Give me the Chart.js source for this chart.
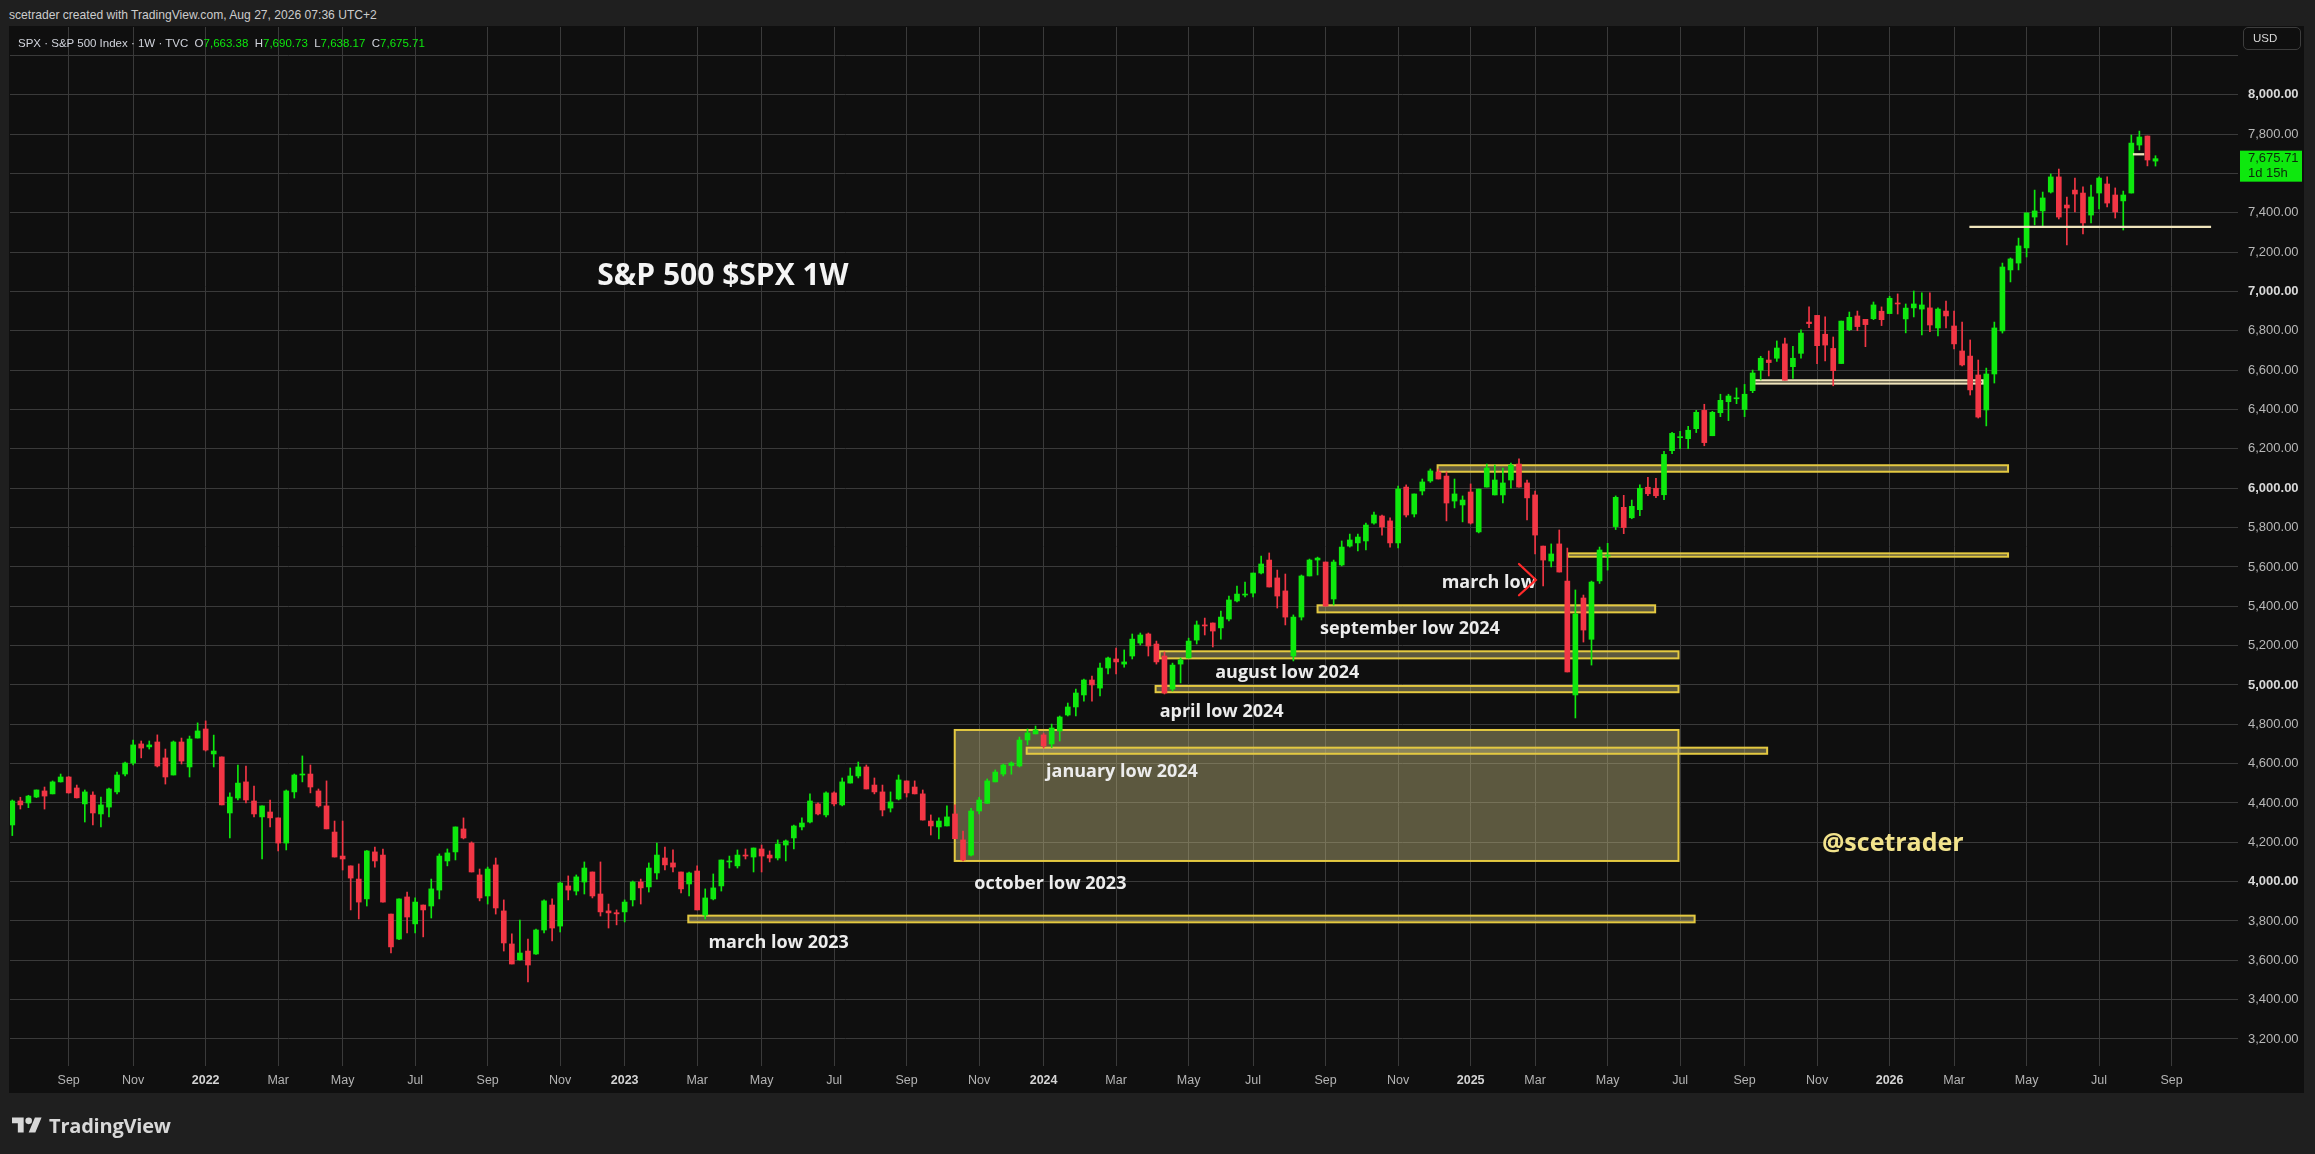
<!DOCTYPE html>
<html>
<head>
<meta charset="utf-8">
<title>S&amp;P 500 $SPX 1W</title>
<script src="https://cdn.jsdelivr.net/npm/chart.js@4.4.1/dist/chart.umd.min.js"></script>
<style>
  html, body { margin:0; padding:0; width:2315px; height:1154px; overflow:hidden; background:#1f1f1f; }
  body { position:relative; font-family:"Liberation Sans", Arial, sans-serif; }
  #hdr { position:absolute; left:9px; top:6px; font-size:12.1px; line-height:18px; color:#cccccc; }
  #panel { position:absolute; left:9px; top:26px; width:2295px; height:1067px; background:#0f0f0f; }
  #chart { position:absolute; left:0; top:0; }
  #legend { position:absolute; left:18px; top:35px; font-size:11.5px; line-height:16px; color:#d1d4dc; white-space:pre; }
  #legend .v { color:#0ee80e; }
  #usd { position:absolute; left:2243px; top:27px; width:58px; height:23px; box-sizing:border-box; border:1px solid #3d3d3d; border-radius:5px; color:#d8d8d8; font-size:11.5px; line-height:21px; padding-left:9px; }
  #brand { position:absolute; left:12px; top:1114px; height:22px; display:flex; align-items:center; gap:7px; color:#d8d8d8; font-family:"Open Sans", sans-serif; font-weight:700; font-size:20px; letter-spacing:-0.2px; }
</style>
</head>
<body>
<div id="hdr">scetrader created with TradingView.com, Aug 27, 2026 07:36 UTC+2</div>
<div id="panel"></div>
<canvas id="chart" width="2315" height="1154"></canvas>
<div id="legend"></div>
<div id="usd">USD</div>
<div id="brand"><svg width="30" height="22" viewBox="0 0 36 26"><path fill="#d8d8d8" d="M14 22H7V11H0V4h14v18zM28 22h-8l7.5-18h8L28 22z"/><circle cx="20" cy="8" r="4" fill="#d8d8d8"/></svg><span>TradingView</span></div>
<script>
// ---------- DATA (weekly candles, first bar = week of 2021-07-19) ----------
const firstWeek = '2021-07-19';

const opens = [
  4288,4410,4400,4430,4461,4446,4507,4532,4476,4395,
  4440,4344,4379,4456,4547,4603,4700,4685,4710,4629,
  4542,4710,4583,4730,4776,4649,4634,4349,4425,4507,
  4410,4329,4354,4324,4196,4456,4542,4547,4461,4385,
  4252,4130,4080,4013,3912,4151,4135,3835,3708,3922,
  3785,3881,3876,3957,4105,4151,4268,4196,4034,3927,
  4085,3851,3683,3602,3647,3632,3754,3881,3774,3978,
  3952,3998,4049,3937,3851,3842,3846,3907,3998,3973,
  4044,4120,4095,4049,3988,4054,3830,3912,3978,4100,
  4080,4135,4125,4166,4135,4120,4186,4222,4278,4303,
  4395,4339,4451,4390,4501,4537,4583,4491,4456,4374,
  4420,4512,4481,4446,4308,4278,4283,4344,4212,4135,
  4359,4398,4507,4547,4590,4588,4720,4751,4746,4700,
  4766,4847,4888,4949,5025,4984,5086,5132,5106,5147,
  5213,5259,5208,5147,4979,5106,5137,5228,5305,5315,
  5290,5335,5427,5457,5467,5569,5635,5544,5478,5147,
  5345,5554,5635,5625,5437,5610,5706,5722,5732,5823,
  5859,5834,5722,6006,5869,5986,6037,6083,6062,5935,
  5915,5981,5778,6006,5966,5966,6042,6123,6027,5966,
  5706,5630,5717,5528,4949,5442,5232,5529,5655,5805,
  5903,5850,5891,6005,6000,5967,6191,6257,6252,6303,
  6396,6267,6384,6440,6455,6400,6496,6600,6652,6661,
  6734,6618,6686,6845,6879,6783,6711,6634,6806,6876,
  6859,6862,6900,6888,6940,6861,6917,6911,6917,6815,
  6901,6825,6698,6672,6576,6398,6581,6800,7110,7145,
  7222,7379,7410,7506,7583,7440,7516,7501,7389,7501,
  7547,7491,7461,7501,7745,7791,7663.38
];
const highs = [
  4415,4429,4439,4466,4481,4512,4547,4534,4491,4466,
  4456,4430,4476,4557,4608,4720,4715,4715,4746,4674,
  4715,4730,4740,4807,4817,4745,4634,4451,4593,4588,
  4486,4385,4415,4324,4466,4547,4639,4593,4471,4512,
  4308,4308,4080,4090,4158,4176,4166,3835,3913,3947,
  3917,3881,4013,4141,4166,4278,4324,4202,4064,4074,
  4120,3907,3734,3805,3708,3759,3907,3912,3998,4029,
  4034,4100,4049,4100,3886,3856,3907,4003,4013,4095,
  4196,4176,4161,4049,4049,4080,3963,4039,4110,4130,
  4161,4166,4171,4186,4156,4212,4212,4288,4324,4446,
  4400,4456,4456,4527,4578,4608,4593,4527,4491,4456,
  4542,4512,4512,4466,4339,4324,4385,4390,4257,4373,
  4429,4522,4568,4598,4609,4735,4776,4791,4755,4801,
  4842,4908,4979,5030,5045,5111,5142,5188,5178,5259,
  5264,5264,5223,5168,5111,5137,5238,5325,5340,5315,
  5376,5452,5503,5523,5569,5655,5671,5584,5564,5356,
  5559,5640,5650,5625,5635,5732,5767,5767,5823,5879,
  5864,5849,6011,6017,5971,6047,6098,6098,6083,6047,
  5961,6022,5996,6123,6118,6103,6128,6149,6042,5986,
  5706,5717,5788,5696,5483,5457,5528,5701,5720,5961,
  5964,5940,6017,6056,6050,6188,6284,6289,6315,6396,
  6427,6391,6478,6478,6510,6528,6601,6671,6698,6749,
  6764,6722,6805,6922,6879,6871,6769,6850,6896,6901,
  6859,6947,6922,6976,6988,6937,7003,6993,6993,6917,
  6952,6901,6845,6754,6652,6611,6845,7145,7171,7272,
  7400,7516,7506,7598,7623,7481,7577,7532,7542,7583,
  7583,7527,7511,7796,7816,7791,7690.73
];
const lows = [
  4234,4369,4376,4427,4369,4446,4506,4450,4425,4303,
  4288,4278,4329,4446,4537,4593,4629,4674,4583,4496,
  4542,4598,4532,4730,4664,4583,4390,4222,4415,4400,
  4329,4115,4278,4156,4161,4425,4507,4451,4379,4268,
  4125,4059,3856,3810,3876,4074,3896,3637,3705,3739,
  3739,3719,3815,3912,4080,4110,4217,4049,3902,3886,
  3835,3647,3581,3600,3490,3630,3739,3698,3744,3907,
  3932,3937,3917,3825,3764,3780,3795,3876,3886,3947,
  4013,4059,4049,3942,3927,3856,3810,3907,3952,4069,
  4069,4115,4049,4049,4100,4110,4105,4166,4263,4298,
  4339,4329,4385,4385,4501,4527,4471,4446,4334,4354,
  4415,4430,4446,4313,4237,4217,4283,4218,4105,4130,
  4344,4398,4507,4537,4546,4583,4695,4751,4679,4682,
  4715,4842,4842,4918,4918,4944,5056,5056,5090,5132,
  5203,5147,5106,4954,4969,5010,5137,5208,5254,5193,
  5233,5325,5422,5447,5447,5564,5498,5391,5305,5122,
  5330,5554,5559,5401,5406,5605,5701,5681,5686,5818,
  5762,5701,5696,5854,5854,5966,6030,6047,5834,5900,
  5829,5818,5773,6006,5966,5925,6001,6006,5839,5666,
  5503,5600,5574,5066,4832,5218,5101,5516,5584,5790,
  5769,5845,5860,5962,5952,5942,6176,6201,6201,6283,
  6216,6267,6364,6344,6430,6364,6486,6551,6571,6645,
  6549,6559,6661,6817,6633,6648,6521,6634,6801,6801,
  6720,6857,6827,6888,6886,6790,6871,6779,6796,6774,
  6815,6708,6622,6474,6357,6317,6535,6789,7049,7110,
  7176,7339,7333,7501,7369,7237,7405,7293,7349,7420,
  7430,7374,7313,7501,7720,7639,7638.17
];
const closes = [
  4410,4390,4435,4466,4435,4507,4532,4451,4426,4456,
  4349,4390,4471,4542,4603,4695,4679,4695,4588,4532,
  4710,4613,4725,4766,4669,4664,4390,4430,4501,4415,
  4344,4385,4324,4196,4461,4542,4547,4481,4385,4268,
  4125,4115,4018,3896,4156,4105,3896,3668,3912,3820,
  3896,3856,3963,4130,4146,4278,4222,4049,3917,4064,
  3866,3688,3581,3637,3576,3754,3902,3764,3993,3957,
  4024,4069,3927,3846,3841,3836,3896,3998,3968,4069,
  4135,4085,4074,3963,4044,3856,3917,3968,4110,4105,
  4135,4130,4171,4130,4120,4191,4207,4283,4298,4410,
  4344,4451,4395,4507,4537,4583,4471,4456,4364,4405,
  4517,4451,4446,4313,4283,4308,4329,4218,4110,4359,
  4415,4512,4557,4593,4603,4720,4756,4771,4690,4781,
  4837,4888,4959,5025,5000,5086,5137,5117,5117,5233,
  5254,5198,5117,4959,5101,5127,5223,5305,5300,5274,
  5345,5432,5462,5462,5569,5615,5498,5452,5345,5345,
  5554,5635,5645,5401,5625,5701,5737,5752,5813,5864,
  5803,5722,5996,5864,5971,6032,6088,6047,5925,5971,
  5940,5823,5996,6103,6042,6027,6118,6006,5951,5762,
  5635,5666,5574,5066,5361,5279,5523,5686,5660,5954,
  5800,5908,6000,5972,5962,6172,6279,6262,6295,6386,
  6232,6386,6447,6469,6459,6478,6586,6661,6639,6713,
  6549,6661,6789,6837,6725,6728,6598,6850,6869,6822,
  6832,6932,6857,6966,6937,6916,6937,6932,6830,6911,
  6876,6734,6627,6500,6362,6581,6815,7125,7166,7232,
  7400,7410,7476,7583,7379,7425,7496,7349,7481,7577,
  7450,7405,7491,7755,7786,7669,7675.71
];

// Axis tick labels
const priceTicks = [3200,3400,3600,3800,4000,4200,4400,4600,4800,5000,5200,5400,5600,5800,6000,6200,6400,6600,6800,7000,7200,7400,7600,7800,8000,8200];
const timeLabels = ['Sep','Nov','2022','Mar','May','Jul','Sep','Nov','2023','Mar','May','Jul','Sep','Nov','2024','Mar','May','Jul','Sep','Nov','2025','Mar','May','Jul','Sep','Nov','2026','Mar','May','Jul','Sep'];

// Drawn zones (week index from/to, price low/high)
const zoneFrom = [116.97, 125.9, 141.9, 142.4, 162.0, 193.1, 176.9, 216.2, 83.9];
const zoneTo   = [206.8, 217.8, 206.8, 206.8, 203.9, 247.7, 247.7, 244.6, 208.8];
const zoneLow  = [4105, 4650, 4963, 5135, 5369, 5652, 6084, 6532, 3793];
const zoneHigh = [4771, 4681, 4995, 5171, 5405, 5669, 6117, 6549, 3827];
const zoneTone = ['y','y','y','y','y','y','y','c','y'];

// Horizontal level lines (week from/to, price)
const levelFrom = [242.9, 263.2];
const levelTo = [272.9, 264.6];
const levelPrice = [7329, 7698];

// Text notes (week index of left edge, price of baseline)
const noteText = ['S&P 500 $SPX 1W','march low','september low 2024','august low 2024','april low 2024','january low 2024','october low 2023','march low 2023','@scetrader'];
const noteWeek = [72.6, 177.4, 162.3, 149.3, 142.4, 128.3, 119.4, 86.4, 224.6];
const notePrice = [7033, 5491, 5257, 5037, 4835, 4534, 3962, 3662, 4156];
const noteKind = ['title','note','note','note','note','note','note','note','sig'];

// Red arrow (week / price)
const arrowWeeks = [187.0, 189.1];
const arrowPrices = [5615, 5534, 5456];

// ---------- DERIVED ----------
const n = closes.length;
const startMs = Date.parse(firstWeek + 'T00:00:00Z');
const weekMs = 7 * 86400000;
const tickWeeks = [];
{
  let prev = null;
  for (let i = 0; i < 300 && tickWeeks.length < timeLabels.length; i++) {
    const m = new Date(startMs + i * weekMs).getUTCMonth();
    if (prev !== null && m !== prev && m % 2 === 0) tickWeeks.push(i);
    prev = m;
  }
}
const GREEN = '#0ee80e', RED = '#f23645';
const up = closes.map((c, i) => c >= opens[i]);
const colors = up.map(u => u ? GREEN : RED);
const bodies = opens.map((o, i) => ({ x: i, y: [o, closes[i]] }));
const wicks = lows.map((l, i) => ({ x: i, y: [l, highs[i]] }));

const fmt = v => v.toLocaleString('en-US', { minimumFractionDigits: 2, maximumFractionDigits: 2 });

// legend
{
  const L = n - 1;
  document.getElementById('legend').innerHTML =
    'SPX · S&amp;P 500 Index · 1W · TVC  O<span class="v">' + fmt(opens[L]) +
    '</span>  H<span class="v">' + fmt(highs[L]) +
    '</span>  L<span class="v">' + fmt(lows[L]) +
    '</span>  C<span class="v">' + fmt(closes[L]) + '</span>';
}

const overlay = {
  id: 'overlay',
  beforeDatasetsDraw(chart) {
    const { ctx, chartArea: a, scales: { x, y } } = chart;
    ctx.save();
    ctx.beginPath(); ctx.rect(a.left, a.top, a.right - a.left, a.bottom - a.top); ctx.clip();
    for (let k = 0; k < zoneFrom.length; k++) {
      const x0 = x.getPixelForValue(zoneFrom[k]), x1 = x.getPixelForValue(zoneTo[k]);
      const y0 = y.getPixelForValue(zoneHigh[k]), y1 = y.getPixelForValue(zoneLow[k]);
      const cream = zoneTone[k] === 'c';
      ctx.fillStyle = cream ? 'rgba(200,190,140,0.35)' : 'rgba(200,190,130,0.42)';
      ctx.fillRect(x0, y0, x1 - x0, y1 - y0);
      ctx.lineWidth = 2;
      ctx.strokeStyle = cream ? '#efe4bb' : '#e4c941';
      ctx.strokeRect(x0, y0, x1 - x0, y1 - y0);
    }
    ctx.restore();
  },
  afterDatasetsDraw(chart) {
    const { ctx, chartArea: a, scales: { x, y } } = chart;
    ctx.save();
    ctx.beginPath(); ctx.rect(a.left, a.top, a.right - a.left, a.bottom - a.top); ctx.clip();
    // level lines
    ctx.strokeStyle = '#efe4bb';
    ctx.lineWidth = 2.3;
    for (let k = 0; k < levelFrom.length; k++) {
      const py = y.getPixelForValue(levelPrice[k]);
      ctx.beginPath();
      ctx.moveTo(x.getPixelForValue(levelFrom[k]), py);
      ctx.lineTo(x.getPixelForValue(levelTo[k]), py);
      ctx.stroke();
    }
    // notes
    ctx.textBaseline = 'alphabetic';
    ctx.textAlign = 'left';
    for (let k = 0; k < noteText.length; k++) {
      const kind = noteKind[k];
      if (kind === 'title') { ctx.font = '700 30px "Open Sans"'; ctx.fillStyle = '#f4f4f4'; }
      else if (kind === 'sig') { ctx.font = '700 25px "Open Sans"'; ctx.fillStyle = '#f2e38c'; }
      else { ctx.font = '700 18px "Open Sans"'; ctx.fillStyle = '#ececec'; }
      ctx.fillText(noteText[k], x.getPixelForValue(noteWeek[k]), y.getPixelForValue(notePrice[k]));
    }
    // arrow
    ctx.strokeStyle = '#ff2a2a';
    ctx.lineWidth = 2.2;
    ctx.lineCap = 'round';
    const ax0 = x.getPixelForValue(arrowWeeks[0]), ax1 = x.getPixelForValue(arrowWeeks[1]);
    ctx.beginPath();
    ctx.moveTo(ax0, y.getPixelForValue(arrowPrices[0]));
    ctx.lineTo(ax1, y.getPixelForValue(arrowPrices[1]));
    ctx.lineTo(ax0, y.getPixelForValue(arrowPrices[2]));
    ctx.stroke();
    ctx.restore();
  },
  afterDraw(chart) {
    const { ctx, scales: { y } } = chart;
    const last = closes[n - 1];
    const py = y.getPixelForValue(last);
    ctx.save();
    ctx.fillStyle = up[n - 1] ? GREEN : RED;
    ctx.fillRect(y.left + 2, py - 8, y.width - 5, 31);
    ctx.fillStyle = '#0c2a0c';
    ctx.font = '13px "Liberation Sans"';
    ctx.textBaseline = 'middle';
    ctx.textAlign = 'left';
    ctx.fillText(fmt(last), y.left + 10, py);
    ctx.fillText('1d 15h', y.left + 10, py + 15);
    ctx.restore();
  }
};

new Chart(document.getElementById('chart'), {
  type: 'bar',
  data: {
    datasets: [
      { data: bodies, backgroundColor: colors, barThickness: 5, minBarLength: 1, grouped: false, borderWidth: 0 },
      { data: wicks, backgroundColor: colors, barThickness: 1, grouped: false, borderWidth: 0 }
    ]
  },
  options: {
    responsive: false,
    animation: false,
    devicePixelRatio: 1,
    layout: { padding: { left: 10, right: 10, top: 27, bottom: 61 } },
    plugins: { legend: { display: false }, tooltip: { enabled: false } },
    scales: {
      x: {
        type: 'linear', min: -0.285, max: 276.24, offset: false,
        grid: { color: '#3a3a3a', drawTicks: false, offset: false },
        border: { display: false },
        afterBuildTicks: s => { s.ticks = tickWeeks.map(v => ({ value: v })); },
        afterFit: s => { s.height = 27; },
        ticks: {
          autoSkip: false, maxRotation: 0, minRotation: 0, padding: 7,
          color: ctx => /^\d{4}$/.test(timeLabels[ctx.index] || '') ? '#d4d4d4' : '#b4b4b4',
          font: ctx => ({ family: '"Liberation Sans"', size: 12.5, weight: /^\d{4}$/.test(timeLabels[ctx.index] || '') ? 'bold' : 'normal' }),
          callback: (v, i) => timeLabels[i]
        }
      },
      y: {
        type: 'linear', position: 'right', min: 3062.5, max: 8345.2,
        grid: { color: '#3a3a3a', drawTicks: false },
        border: { display: false },
        afterBuildTicks: s => { s.ticks = priceTicks.map(v => ({ value: v })); },
        afterFit: s => { s.width = 67; },
        ticks: {
          padding: 10,
          color: ctx => (ctx.tick && ctx.tick.value % 1000 === 0) ? '#d8d8d8' : '#b8b8b8',
          font: ctx => ({ family: '"Liberation Sans"', size: 13, weight: (ctx.tick && ctx.tick.value % 1000 === 0) ? 'bold' : 'normal' }),
          callback: v => v >= 8200 ? '' : fmt(v)
        }
      }
    }
  },
  plugins: [overlay]
});
</script>
</body>
</html>
